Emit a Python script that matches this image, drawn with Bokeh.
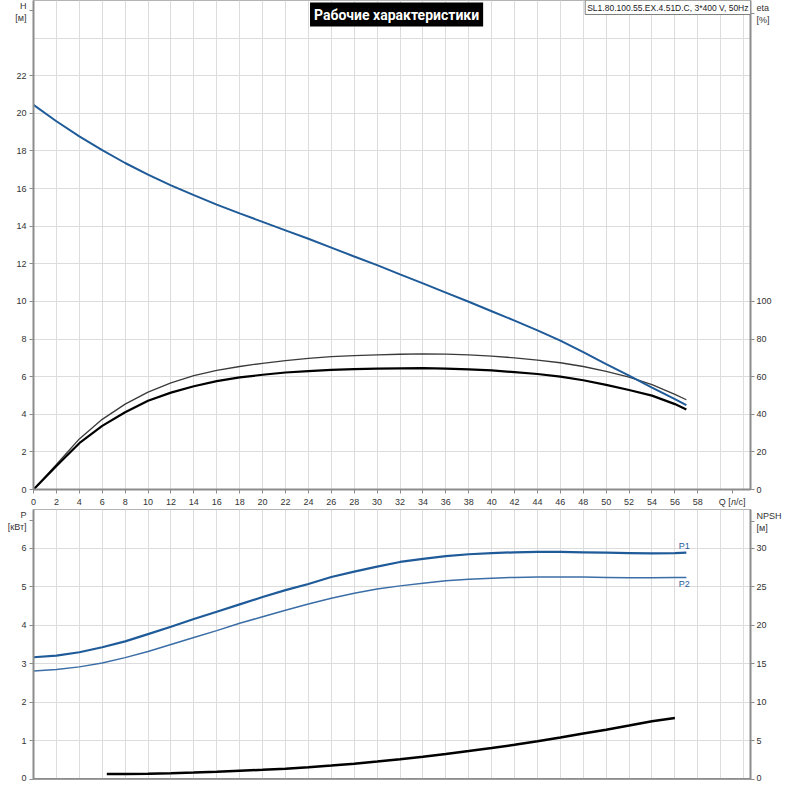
from bokeh.plotting import figure
from bokeh.models import Range1d, LinearAxis, FixedTicker, Label, Span
from bokeh.layouts import column
from bokeh.embed import file_html
from bokeh.resources import INLINE

# ---------------- data ----------------
q_main = [0, 2, 4, 6, 8, 10, 12, 14, 16, 18, 20, 22, 24, 26, 28, 30,
          32, 34, 36, 38, 40, 42, 44, 46, 48, 50, 52, 54, 56, 57]
head_m = [20.45, 19.58, 18.78, 18.04, 17.36, 16.74, 16.17, 15.65, 15.15, 14.68,
          14.23, 13.78, 13.33, 12.86, 12.39, 11.93, 11.44, 10.96, 10.47, 9.98,
          9.48, 8.98, 8.46, 7.92, 7.30, 6.67, 6.05, 5.42, 4.80, 4.49]
eta_thin = [0, 13.3, 26.9, 37.3, 45.4, 51.8, 56.7, 60.5, 63.3, 65.4,
            67.1, 68.5, 69.7, 70.6, 71.2, 71.6, 71.9, 72.1, 72.0, 71.6,
            70.9, 70.0, 68.8, 67.4, 65.4, 62.8, 59.8, 55.8, 50.6, 47.7]
eta_thick = [0, 12.5, 24.6, 33.8, 41.1, 47.2, 51.5, 54.9, 57.6, 59.6,
             61.0, 62.2, 62.9, 63.6, 64.0, 64.3, 64.4, 64.5, 64.3, 63.9,
             63.3, 62.4, 61.4, 60.0, 58.1, 55.6, 52.9, 49.9, 45.4, 42.6]
p1_kw = [3.17, 3.21, 3.30, 3.43, 3.58, 3.77, 3.96, 4.16, 4.35, 4.54,
         4.73, 4.91, 5.07, 5.25, 5.39, 5.52, 5.64, 5.72, 5.79, 5.84,
         5.87, 5.89, 5.90, 5.90, 5.89, 5.88, 5.87, 5.86, 5.87, 5.88]
p2_kw = [2.81, 2.85, 2.92, 3.02, 3.16, 3.32, 3.50, 3.68, 3.86, 4.05,
         4.22, 4.39, 4.55, 4.70, 4.83, 4.94, 5.02, 5.09, 5.15, 5.19,
         5.22, 5.24, 5.25, 5.25, 5.25, 5.24, 5.23, 5.23, 5.24, 5.24]
q_npsh = [6.4, 8, 10, 12, 14, 16, 18, 20, 22, 24, 26, 28, 30, 32, 34, 36,
          38, 40, 42, 44, 46, 48, 50, 52, 54, 56]
npsh_m = [0.70, 0.72, 0.76, 0.82, 0.90, 1.00, 1.13, 1.25, 1.40, 1.58, 1.80,
          2.05, 2.32, 2.62, 2.95, 3.30, 3.68, 4.08, 4.50, 4.95, 5.45, 5.96,
          6.46, 7.00, 7.56, 7.97]

x_ticks = list(range(0, 59, 2))
x_grid = list(range(0, 63, 2))
h_ticks = list(range(0, 23, 2))
h_grid = list(range(0, 27, 2))
eta_ticks = [0, 20, 40, 60, 80, 100]
p_ticks = [0, 1, 2, 3, 4, 5, 6]
p_grid = [0, 1, 2, 3, 4, 5, 6, 7]
npsh_ticks = [0, 5, 10, 15, 20, 25, 30]

title_text = "Рабочие характеристики"
model_text = "SL1.80.100.55.EX.4.51D.C, 3*400 V, 50Hz"
h_label = "H\n[м]"
eta_label = "eta\n[%]"
q_label = "Q [л/с]"
p_label = "P\n[кВт]"
npsh_label = "NPSH\n[м]"

# positions of the unit captions on their axes (in axis units)
H_CAP, ETA_CAP, Q_CAP, P_CAP, NPSH_CAP = 25.45, 253.0, 61.0, 6.72, 33.4

# ---------------- style ----------------
FONT = "Liberation Sans"
AX = "#8c8c8c"
GRID = "#dcdcdc"
TXT = "#333333"
BLUE = "#1f5b99"
BLUE2 = "#3b6ea6"
X_MAX = 62.6


def style_axis(ax, standoff=3):
    ax.axis_line_color = AX
    ax.axis_line_width = 2
    ax.major_tick_line_color = AX
    ax.major_tick_out = 4
    ax.major_tick_in = 0
    ax.minor_tick_line_color = None
    ax.major_label_text_font = FONT
    ax.major_label_text_font_size = "9px"
    ax.major_label_text_color = TXT
    ax.major_label_standoff = standoff


def make_fig(height, y_max, extra_name, extra_max, border_bottom):
    p = figure(width=784, height=height, x_range=Range1d(0, X_MAX),
               y_range=Range1d(0, y_max), output_backend="svg", toolbar_location=None,
               min_border_left=33, min_border_right=32, min_border_top=0,
               min_border_bottom=border_bottom)
    p.extra_y_ranges = {extra_name: Range1d(0, extra_max)}
    p.add_layout(LinearAxis(y_range_name=extra_name), "right")
    p.outline_line_color = "#b4b4b4"
    p.xgrid.grid_line_color = GRID
    p.ygrid.grid_line_color = GRID
    p.xgrid.ticker = FixedTicker(ticks=x_grid)
    return p


# ---------------- top chart ----------------
top = make_fig(509, 26, "eta", 260, 18)
top.xaxis.ticker = FixedTicker(ticks=x_ticks + [Q_CAP])
top.xaxis.major_label_overrides = {Q_CAP: q_label}
top.yaxis[0].ticker = FixedTicker(ticks=h_ticks + [H_CAP])
top.yaxis[0].major_label_overrides = {H_CAP: h_label}
top.yaxis[1].ticker = FixedTicker(ticks=eta_ticks + [ETA_CAP])
top.yaxis[1].major_label_overrides = {ETA_CAP: eta_label}
top.ygrid.ticker = FixedTicker(ticks=h_grid)
style_axis(top.xaxis[0])
style_axis(top.yaxis[0])
style_axis(top.yaxis[1], standoff=2)

top.line(q_main, eta_thin, y_range_name="eta", line_color="#3a3a3a", line_width=1.3)
top.line(q_main, eta_thick, y_range_name="eta", line_color="#000000", line_width=2.2)
top.line(q_main, head_m, line_color=BLUE, line_width=2)

top.add_layout(Label(x=31.7, y=26, y_offset=-2, text=title_text, text_align="center",
                     text_baseline="top", text_font="Roboto",
                     text_font_style="bold", text_font_size="14px", text_color="white",
                     background_fill_color="black", padding=4))
top.add_layout(Label(x=X_MAX, y=26, text=model_text, text_align="right",
                     text_baseline="top", text_font=FONT, text_font_size="8.5px",
                     text_color="#222222", background_fill_color="white",
                     border_line_color="#808080", padding=2))

# ---------------- bottom chart ----------------
bot = make_fig(273, 7, "npsh", 35, 3)
bot.x_range = top.x_range
bot.xaxis.visible = False
bot.yaxis[0].ticker = FixedTicker(ticks=p_ticks + [P_CAP])
bot.yaxis[0].major_label_overrides = {P_CAP: p_label}
bot.yaxis[1].ticker = FixedTicker(ticks=npsh_ticks + [NPSH_CAP])
bot.yaxis[1].major_label_overrides = {NPSH_CAP: npsh_label}
bot.ygrid.ticker = FixedTicker(ticks=p_grid)
style_axis(bot.yaxis[0])
style_axis(bot.yaxis[1], standoff=2)
bot.add_layout(Span(location=0, dimension="width", line_color=AX, line_width=3))

bot.line(q_main, p2_kw, line_color=BLUE2, line_width=1.5)
bot.line(q_main, p1_kw, line_color=BLUE, line_width=2.2)
bot.line(q_npsh, npsh_m, y_range_name="npsh", line_color="#000000", line_width=2.5)

bot.add_layout(Label(x=q_main[-1], y=p1_kw[-1], text="P1", text_align="center",
                     text_baseline="bottom", text_font=FONT, text_font_size="9px",
                     text_color=BLUE, y_offset=2, x_offset=-2))
bot.add_layout(Label(x=q_main[-1], y=p2_kw[-1], text="P2", text_align="center",
                     text_baseline="top", text_font=FONT, text_font_size="9px",
                     text_color=BLUE, y_offset=-2, x_offset=-2))

layout = column(top, bot, spacing=0)
open("out.html", "w").write(file_html(layout, INLINE))
